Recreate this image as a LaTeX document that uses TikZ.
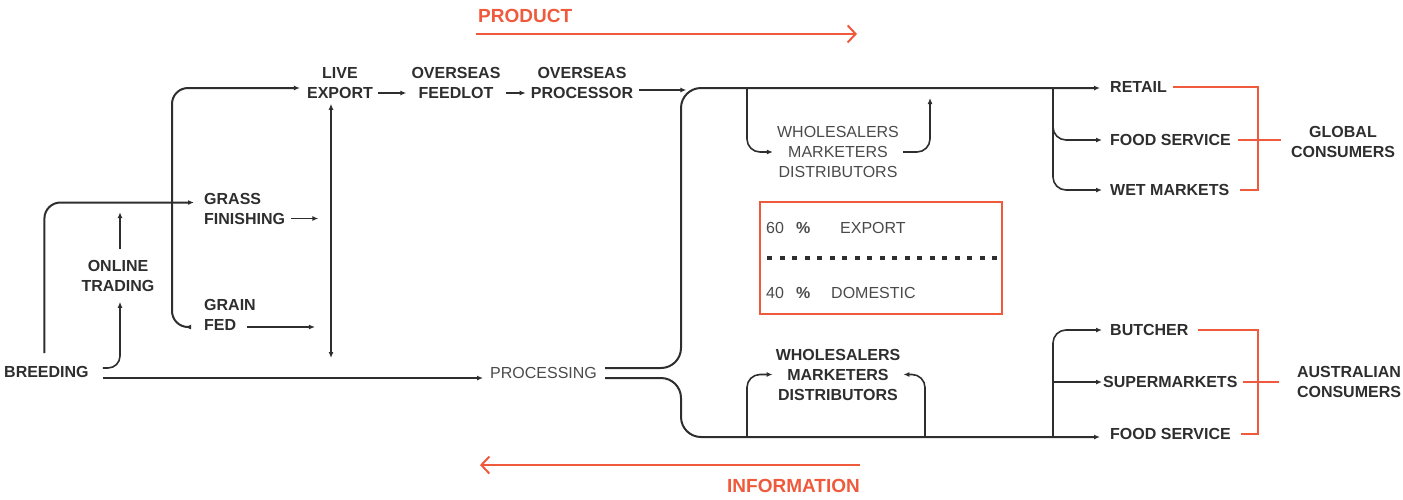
\documentclass[tikz,border=0pt]{standalone}
\usepackage{fontspec}
\setmainfont{Liberation Sans}
\usetikzlibrary{arrows.meta}
\definecolor{ink}{HTML}{2E2E2E}
\definecolor{soft}{HTML}{4A4A4A}
\definecolor{accent}{HTML}{F05A3C}

\begin{document}
\begin{tikzpicture}[x=1pt, y=-1pt,
  lbl/.style={font=\fontsize{16}{20}\selectfont\bfseries, text=ink, align=center, inner sep=0pt},
  lite/.style={lbl, font=\fontsize{16}{20}\selectfont, text=soft},
  head/.style={lbl, font=\fontsize{19}{22}\selectfont\bfseries, text=accent},
  flow/.style={draw=ink, line width=2pt, rounded corners=16pt},
  feed/.style={draw=ink, line width=1.6pt, rounded corners=13pt},
  thinflow/.style={draw=ink, line width=1.3pt},
  arr/.style={-{Latex[length=6pt,width=5pt]}},
  twin/.style={{Latex[length=6pt,width=5pt]}-{Latex[length=6pt,width=5pt]}},
  redl/.style={draw=accent, line width=1.8pt},
  sense/.style={draw=accent, line width=2pt, -{Straight Barb[length=8pt,width=17pt,line width=2pt]}}]
\path[use as bounding box] (0,0) rectangle (1403,499);

% labels
\node[head, anchor=west] (product) at (478,16) {PRODUCT};
\node[head, anchor=east] (info) at (860,486) {INFORMATION};
\node[lbl] (live) at (340,83) {LIVE\\EXPORT};
\node[lbl] (feedlot) at (456,83) {OVERSEAS\\FEEDLOT};
\node[lbl] (oproc) at (582,83) {OVERSEAS\\PROCESSOR};
\node[lbl, anchor=west] (breed) at (4,372) {BREEDING};
\node[lbl] (online) at (118,276) {ONLINE\\TRADING};
\node[lbl, align=left, anchor=west] (grass) at (204,208.5) {GRASS\\FINISHING};
\node[lbl, align=left, anchor=west] (grain) at (204,314.5) {GRAIN\\FED};
\node[lite, anchor=west] (proc) at (490,373) {PROCESSING};
\node[lite] (whtop) at (838,152) {WHOLESALERS\\MARKETERS\\DISTRIBUTORS};
\node[lbl] (whbot) at (838,374.5) {WHOLESALERS\\MARKETERS\\DISTRIBUTORS};
\node[lbl, anchor=west] (retail) at (1110,87) {RETAIL};
\node[lbl, anchor=west] (fsglob) at (1110,140) {FOOD SERVICE};
\node[lbl, anchor=west] (wet) at (1110,190) {WET MARKETS};
\node[lbl] (global) at (1343,142) {GLOBAL\\CONSUMERS};
\node[lbl, anchor=west] (butcher) at (1110,330) {BUTCHER};
\node[lbl, anchor=west] (super) at (1103,382) {SUPERMARKETS};
\node[lbl, anchor=west] (fsaus) at (1110,434) {FOOD SERVICE};
\node[lbl] (aus) at (1349,382) {AUSTRALIAN\\CONSUMERS};

% export / domestic split
\node[draw=accent, line width=1.5pt, minimum width=242pt, minimum height=112pt, inner sep=0pt] (split) at (881,258) {};
\node[lite, anchor=west] (p60) at (766,228) {60\hspace{12pt}\textbf{\%}};
\node[lite, anchor=west] (export) at (840,228) {EXPORT};
\node[lite, anchor=west] (p40) at (766,293) {40\hspace{12pt}\textbf{\%}};
\node[lite, anchor=west] (domestic) at (831,293) {DOMESTIC};
\draw[ink, line width=4pt, dash pattern=on 5pt off 7.5pt] ([shift={(8,0)}]split.west) -- ([shift={(-2,0)}]split.east);

% junctions
\coordinate (lcol) at (172,0);
\coordinate (vbot) at (331,358);
\coordinate (trunk) at (681,0);
\coordinate (wtin) at (747,88);
\coordinate (wtout) at (930,98);
\coordinate (gtap) at (1053,88);
\coordinate (wbin) at (747,437);
\coordinate (wbout) at (925,437);
\coordinate (atap) at (1053,437);
\coordinate (gbr) at (1258,0);
\coordinate (gfin) at ([shift={(-19,12.5)}]grain.west);
\coordinate (lvin) at ([shift={(-7,5)}]live.west);
\coordinate (retin) at ([shift={(-10,1)}]retail.west);
\coordinate (fsin) at ([shift={(-10,3)}]fsaus.west);

% farm side
\draw[flow, arr] ([shift={(-2,-13)}]breed.north) |- ([shift={(-10,-6)}]grass.west);
\draw[feed, rounded corners=12pt, arr] ([shift={(14,-4)}]breed.east) -| ([shift={(2,10)}]online.south);
\draw[thinflow, arr] ([shift={(2,-11)}]online.north) -- ++(0,-37);
\draw[flow, twin] (gfin) -| (lcol |- lvin) -- (lvin);
\draw[thinflow, arr] ([shift={(6,10)}]grass.east) -- ++(27,0);
\draw[thinflow, arr] ([shift={(-9,12.5)}]grain.east) -- ++(68,0);
\draw[flow, twin] ([shift={(-9,5)}]live.south) -- (vbot);
\draw[thinflow, arr] ([shift={(5,10)}]live.east) -- ([shift={(-5,10)}]feedlot.west);
\draw[thinflow, arr] ([shift={(5,10)}]feedlot.east) -- ([shift={(-5,10)}]oproc.west);
\draw[thinflow, arr] ([shift={(6,7)}]oproc.east) -- ++(47,0);
\draw[flow, arr] ([shift={(14,6)}]breed.east) -- ([shift={(-7,5)}]proc.west);

% processing to markets
\draw[flow, rounded corners=20pt, arr] ([shift={(8,-5)}]proc.east) -| (trunk |- retin) -- (retin);
\draw[flow, rounded corners=20pt, arr] ([shift={(8,5)}]proc.east) -| (trunk |- fsin) -- (fsin);
\draw[feed, arr] (wtin) |- ([shift={(-4,0)}]whtop.west);
\draw[feed, arr] ([shift={(4,0)}]whtop.east) -| (wtout);
\draw[feed, arr] (gtap) |- ([shift={(-8,0)}]fsglob.west);
\draw[feed, arr] (gtap) |- ([shift={(-8,0)}]wet.west);
\draw[feed, arr] (wbin) |- ([shift={(-3,0)}]whbot.west);
\draw[feed, arr] (wbout) |- ([shift={(3,0)}]whbot.east);
\draw[feed, arr] (atap) |- ([shift={(-8,0)}]butcher.west);
\draw[thinflow, arr] (atap |- super.west) -- ([shift={(-1,0)}]super.west);

% consumer brackets
\draw[redl] ([shift={(6,0)}]retail.east) -- (gbr |- retail.east) -- (gbr |- wet.east) -- ([shift={(10,0)}]wet.east);
\draw[redl] ([shift={(7,0)}]fsglob.east) -- ([shift={(-10,0)}]global.west |- fsglob.east);
\draw[redl] ([shift={(9,0)}]butcher.east) -- (gbr |- butcher.east) -- (gbr |- fsaus.east) -- ([shift={(10,0)}]fsaus.east);
\draw[redl] ([shift={(5,0)}]super.east) -- ([shift={(-18,0)}]aus.west |- super.east);

% product / information
\draw[sense] ([shift={(-2,11)}]product.south west) -- ++(381,0);
\draw[sense] ([shift={(0,-14)}]info.north east) -- ++(-380,0);
\end{tikzpicture}
\end{document}
